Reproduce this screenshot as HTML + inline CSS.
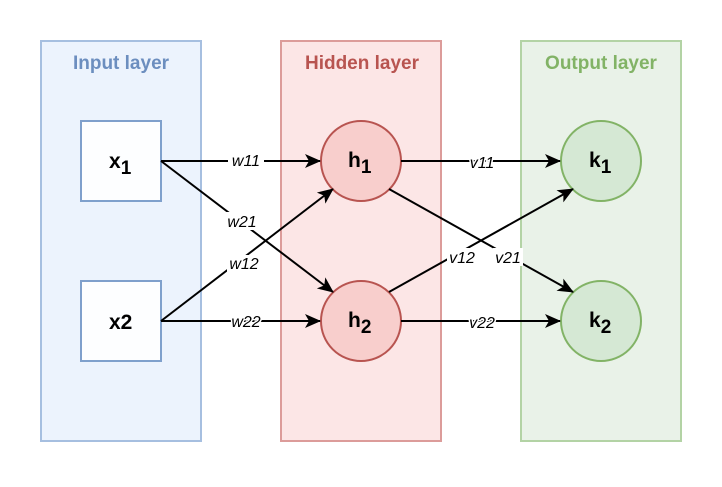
<!DOCTYPE html>
<html><head><meta charset="utf-8"><style>body{margin:0;background:#fff}</style></head><body>
<svg width="722" height="482" xmlns="http://www.w3.org/2000/svg" font-family="Liberation Sans, sans-serif">
<defs><marker id="a" markerWidth="16" markerHeight="14" refX="15" refY="7" orient="auto" markerUnits="userSpaceOnUse" viewBox="0 0 16 14"><path d="M0,0 L16,7 L0,14 L4,7 Z" fill="#000"/></marker></defs>
<rect x="41" y="41" width="160" height="400" fill="#ecf3fd" stroke="#a6bfe0" stroke-width="2"/>
<rect x="281" y="41" width="160" height="400" fill="#fce6e6" stroke="#dc9c9a" stroke-width="2"/>
<rect x="521" y="41" width="160" height="400" fill="#e9f2e8" stroke="#b3d3a5" stroke-width="2"/>
<g font-size="19" font-weight="bold" text-anchor="middle">
<text x="121" y="69" fill="#6c8ebf">Input layer</text>
<text x="362" y="69" fill="#b85450">Hidden layer</text>
<text x="601" y="69" fill="#82b366">Output layer</text>
</g>
<rect x="81" y="121" width="80" height="80" fill="#fdfeff" stroke="#7fa0cc" stroke-width="2"/>
<rect x="81" y="281" width="80" height="80" fill="#fdfeff" stroke="#7fa0cc" stroke-width="2"/>
<g fill="#f8cecc" stroke="#b85450" stroke-width="2"><circle cx="361" cy="161" r="40"/><circle cx="361" cy="321" r="40"/></g>
<g fill="#d5e8d4" stroke="#82b366" stroke-width="2"><circle cx="601" cy="161" r="40"/><circle cx="601" cy="321" r="40"/></g>
<g stroke="#000" stroke-width="2" marker-end="url(#a)">
<line x1="161" y1="161" x2="320" y2="161"/>
<line x1="161" y1="161" x2="333" y2="292"/>
<line x1="161" y1="321" x2="333" y2="189"/>
<line x1="161" y1="321" x2="320" y2="321"/>
<line x1="401" y1="161" x2="560" y2="161"/>
<line x1="389" y1="189" x2="573" y2="292"/>
<line x1="389" y1="292" x2="573" y2="189"/>
<line x1="401" y1="321" x2="560" y2="321"/>
</g>
<g font-size="16" font-style="italic" text-anchor="middle">
<rect x="228" y="151" width="36" height="19" fill="#fff"/><text x="246" y="166">w11</text>
<rect x="225" y="212" width="35" height="18" fill="#fff"/><text x="242" y="227">w21</text>
<rect x="227" y="255" width="35" height="17" fill="#fff"/><text x="244" y="269">w12</text>
<text x="246" y="327" stroke="#fff" stroke-width="3" paint-order="stroke">w22</text>
<text x="482" y="168" stroke="#fff" stroke-width="3" paint-order="stroke">v11</text>
<rect x="447" y="248" width="30" height="18" fill="#fff"/><text x="462" y="263">v12</text>
<rect x="493" y="248" width="30" height="18" fill="#fff"/><text x="508" y="263">v21</text>
<text x="482" y="328" stroke="#fff" stroke-width="3" paint-order="stroke">v22</text>
</g>
<g font-size="21" font-weight="bold">
<text x="109" y="168">x<tspan font-size="19" dy="6">1</tspan></text>
<text x="109" y="329">x2</text>
<text x="348" y="167">h<tspan font-size="19" dy="6">1</tspan></text>
<text x="348" y="327">h<tspan font-size="19" dy="6">2</tspan></text>
<text x="589" y="167">k<tspan font-size="19" dy="6">1</tspan></text>
<text x="589" y="327">k<tspan font-size="19" dy="6">2</tspan></text>
</g>
</svg>
</body></html>
